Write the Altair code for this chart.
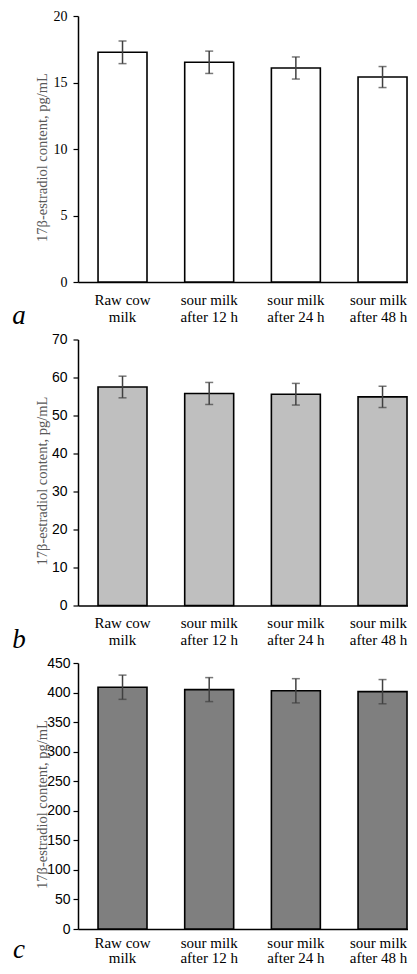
import altair as alt
import pandas as pd

categories = ["Raw cow\nmilk", "sour milk\nafter 12 h", "sour milk\nafter 24 h", "sour milk\nafter 48 h"]

means_a = [17.27, 16.52, 16.09, 15.41]
errs_a = [0.85, 0.84, 0.83, 0.79]

means_b = [57.5, 55.8, 55.6, 54.9]
errs_b = [2.85, 2.9, 2.85, 2.8]

means_c = [409.0, 405.0, 403.0, 401.5]
errs_c = [20.5, 20.3, 20.5, 20.5]

ticks_a = [0, 5, 10, 15, 20]
ticks_b = [0, 10, 20, 30, 40, 50, 60, 70]
ticks_c = [0, 50, 100, 150, 200, 250, 300, 350, 400, 450]

letters = ["a", "b", "c"]
fills = ["#ffffff", "#bfbfbf", "#7f7f7f"]

y_title = "17\u03b2-estradiol  content, pg/mL"

W = 331
H = 266


def panel(means, errs, ticks, fill, letter, tick_font, label_pad,
          xlab_pad=22, xlab_lh=17, letter_dy=42):
    df = pd.DataFrame({
        "cat": categories,
        "mean": means,
        "lo": [m - e for m, e in zip(means, errs)],
        "hi": [m + e for m, e in zip(means, errs)],
    })
    xscale = alt.Scale(paddingInner=0.435, paddingOuter=0.127, align=0.91)
    xaxis = alt.Axis(
        title=None, labelAngle=0, ticks=False, tickSize=0, labelPadding=xlab_pad,
        labelBaseline="alphabetic", labelLineHeight=xlab_lh,
        labelFont="Liberation Serif", labelFontSize=15, labelColor="black",
        domainColor="black", domainWidth=1.5, labelOverlap=False,
        labelExpr="split(datum.label, '\\n')",
        labelOffset=alt.condition("indexof(datum.value, '48') >= 0",
                                  alt.value(-4), alt.value(0)),
    )
    yscale = alt.Scale(domain=[0, ticks[-1]], nice=False, zero=True)
    yaxis = alt.Axis(
        values=ticks, title=y_title, titleFont="Liberation Serif",
        titleFontSize=14.5, titleFontWeight="normal", titleColor="#595959",
        titleX=-36, titleY=141, titleAngle=270, titleAlign="center",
        titleBaseline="middle", labelFont=tick_font, labelFontSize=14,
        labelColor="black", labelPadding=label_pad, tickSize=5,
        tickColor="black", tickWidth=1.2, domainColor="black",
        domainWidth=1.5, grid=False, labelOverlap=False,
    )
    x = alt.X("cat:N", sort=categories, scale=xscale, axis=xaxis)
    base = alt.Chart(df)
    bars = base.mark_bar(fill=fill, stroke="black", strokeWidth=1.6).encode(
        x=x, y=alt.Y("mean:Q", scale=yscale, axis=yaxis)
    )
    rule = base.mark_rule(color="#404040", strokeWidth=1.5).encode(
        x=x, y=alt.Y("lo:Q", scale=yscale, axis=yaxis), y2="hi:Q"
    )
    cap_lo = base.mark_tick(color="#404040", size=8, thickness=1.5).encode(
        x=x, y=alt.Y("lo:Q", scale=yscale, axis=yaxis)
    )
    cap_hi = base.mark_tick(color="#404040", size=8, thickness=1.5).encode(
        x=x, y=alt.Y("hi:Q", scale=yscale, axis=yaxis)
    )
    ldf = pd.DataFrame({"t": [letter]})
    lt = alt.Chart(ldf).mark_text(
        font="Liberation Serif", fontStyle="italic", fontSize=27,
        align="center", baseline="alphabetic", color="black",
    ).encode(x=alt.value(-59), y=alt.value(H + letter_dy), text="t:N")
    return alt.layer(bars, rule, cap_lo, cap_hi, lt).properties(width=W, height=H)


pa = panel(means_a, errs_a, ticks_a, fills[0], letters[0], "Liberation Serif", 6)
pb = panel(means_b, errs_b, ticks_b, fills[1], letters[1], "Liberation Sans", 6)
pc = panel(means_c, errs_c, ticks_c, fills[2], letters[2], "Liberation Sans", 3,
           xlab_pad=18, xlab_lh=15, letter_dy=29)

chart = alt.vconcat(pa, pb, pc, spacing=57.5, bounds="flush").properties(
    padding={"left": 4, "top": 1, "right": -1, "bottom": 0},
    background="white",
).configure_view(stroke=None)

chart.save("out.html", embed_options={"renderer": "svg", "actions": False})
